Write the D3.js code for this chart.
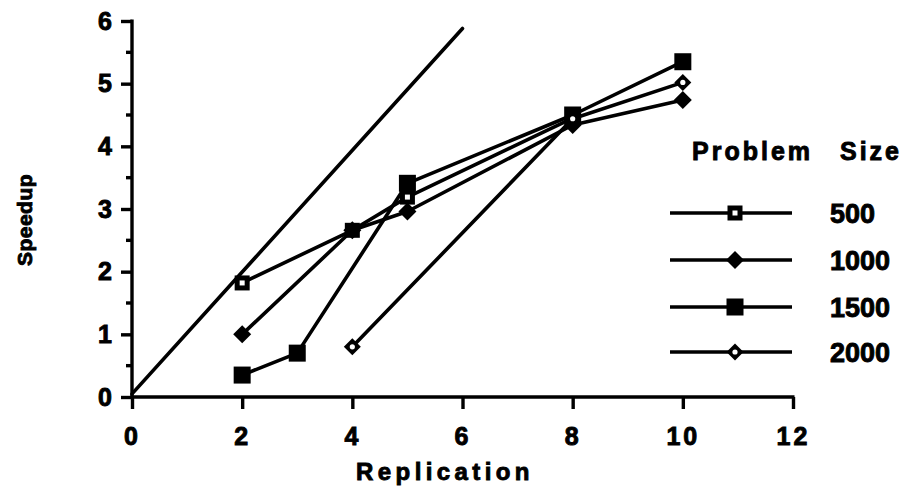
<!DOCTYPE html>
<html>
<head>
<meta charset="utf-8">
<script src="https://cdn.jsdelivr.net/npm/d3@7"></script>
<style>
    body { margin: 0; background: #fff; }
    text { font-family: "Liberation Sans", Arial, sans-serif; font-weight: bold; fill: #000; stroke: #000; stroke-width: 0.9px; }
</style>
</head>
<body>
<div id="chart"></div>
<script>
// Speedup vs replication, one series per problem size
var sizes = ["500", "1000", "1500", "2000"];
var markers = ["openSquare", "filledDiamond", "filledSquare", "openDiamond"];

var rep500 = [2, 4, 5, 8];
var speed500 = [1.82, 2.66, 3.19, 4.45];
var rep1000 = [2, 4, 5, 8, 10];
var speed1000 = [1.0, 2.66, 2.96, 4.34, 4.74];
var rep1500 = [2, 3, 5, 8, 10];
var speed1500 = [0.35, 0.7, 3.41, 4.5, 5.35];
var rep2000 = [4, 8, 10];
var speed2000 = [0.8, 4.44, 5.02];

// ideal (linear) speedup reference line
var idealRep = [0, 6];
var idealSpeed = [0.05, 5.88];

var xTicks = [0, 2, 4, 6, 8, 10, 12];
var yTicks = [0, 1, 2, 3, 4, 5, 6];
var yMinorTicks = [0.5, 1.5, 2.5, 3.5, 4.5, 5.5];

var width = 905, height = 487;

var svg = d3.select("#chart")
    .append("svg")
    .attr("width", width)
    .attr("height", height);

var x = d3.scaleLinear().domain([0, 12]).range([132, 793]);
var y = d3.scaleLinear().domain([0, 6]).range([397, 21]);

var series = [
    { name: sizes[0], marker: markers[0], values: d3.zip(rep500, speed500) },
    { name: sizes[1], marker: markers[1], values: d3.zip(rep1000, speed1000) },
    { name: sizes[2], marker: markers[2], values: d3.zip(rep1500, speed1500) },
    { name: sizes[3], marker: markers[3], values: d3.zip(rep2000, speed2000) }
];

// marker drawing
function drawMarker(g, type) {
    if (type === "openSquare" || type === "filledSquare") {
        var s = type === "openSquare" ? 15 : 17;
        g.append("rect").attr("x", -s / 2).attr("y", -s / 2)
            .attr("width", s).attr("height", s).attr("fill", "#000");
        if (type === "openSquare") {
            g.append("rect").attr("x", -2.5).attr("y", -2.5)
                .attr("width", 5).attr("height", 5).attr("fill", "#fff");
        }
    } else {
        var r = type === "openDiamond" ? 8.5 : 9;
        g.append("path")
            .attr("d", "M0," + (-r) + "L" + r + ",0L0," + r + "L" + (-r) + ",0Z")
            .attr("fill", "#000");
        if (type === "openDiamond") {
            g.append("circle").attr("r", 2.6).attr("fill", "#fff");
        }
    }
}

// Y axis
var yAxisCall = d3.axisLeft(y).tickValues(yTicks).tickSize(11).tickFormat(d3.format("d"));
var yAxis = svg.append("g")
    .attr("transform", "translate(" + x(0) + ",0)")
    .call(yAxisCall);
yAxis.select(".domain").remove();
yAxis.selectAll(".tick line").attr("stroke", "#000").attr("stroke-width", 3.4);
yAxis.selectAll(".tick text")
    .attr("x", -20)
    .attr("font-size", "25px")
    .attr("font-family", "Liberation Sans, Arial, sans-serif")
    .attr("font-weight", "bold");

svg.append("g").selectAll("line")
    .data(yMinorTicks)
    .enter().append("line")
    .attr("x1", x(0) - 6).attr("x2", x(0))
    .attr("y1", function (d) { return y(d); })
    .attr("y2", function (d) { return y(d); })
    .attr("stroke", "#000").attr("stroke-width", 3.4);

svg.append("line")
    .attr("x1", x(0)).attr("x2", x(0))
    .attr("y1", y(6) - 1.5).attr("y2", y(0) + 1.5)
    .attr("stroke", "#000").attr("stroke-width", 3.4);

// X axis
var xAxisCall = d3.axisBottom(x).tickValues(xTicks).tickSize(12).tickFormat(d3.format("d"));
var xAxis = svg.append("g")
    .attr("transform", "translate(0," + y(0) + ")")
    .call(xAxisCall);
xAxis.select(".domain").remove();
xAxis.selectAll(".tick line").attr("stroke", "#000").attr("stroke-width", 3.4);
xAxis.selectAll(".tick text")
    .attr("y", 30)
    .attr("dy", "0.71em")
    .attr("font-size", "25px")
    .attr("letter-spacing", "3px")
    .attr("font-family", "Liberation Sans, Arial, sans-serif")
    .attr("font-weight", "bold");

svg.append("line")
    .attr("x1", x(0) - 1.5).attr("x2", x(12) + 1.5)
    .attr("y1", y(0)).attr("y2", y(0))
    .attr("stroke", "#000").attr("stroke-width", 3.4);

// axis titles
svg.append("text")
    .attr("x", 445)
    .attr("y", 480)
    .attr("font-size", "24px")
    .attr("letter-spacing", "4.4px")
    .attr("text-anchor", "middle")
    .text("Replication");

svg.append("text")
    .attr("transform", "translate(32," + 220 + ") rotate(-90)")
    .attr("font-size", "21px")
    .attr("letter-spacing", "0.5px")
    .attr("text-anchor", "middle")
    .text("Speedup");

// lines
var line = d3.line()
    .x(function (d) { return x(d[0]); })
    .y(function (d) { return y(d[1]); });

svg.append("path")
    .datum(d3.zip(idealRep, idealSpeed))
    .attr("d", line)
    .attr("fill", "none")
    .attr("stroke", "#000")
    .attr("stroke-width", 3.6)
    .attr("stroke-linecap", "round");

svg.selectAll(".series")
    .data(series)
    .enter().append("path")
    .attr("class", "series")
    .attr("d", function (d) { return line(d.values); })
    .attr("fill", "none")
    .attr("stroke", "#000")
    .attr("stroke-width", 3.6)
    .attr("stroke-linejoin", "round");

series.forEach(function (s) {
    s.values.forEach(function (v) {
        var g = svg.append("g")
            .attr("transform", "translate(" + x(v[0]) + "," + y(v[1]) + ")");
        drawMarker(g, s.marker);
    });
});

// Legend
var legendY = [213, 260, 307, 352];

svg.append("text")
    .attr("x", 692).attr("y", 160)
    .attr("font-size", "25px")
    .attr("letter-spacing", "3px")
    .text("Problem");
svg.append("text")
    .attr("x", 840).attr("y", 160)
    .attr("font-size", "25px")
    .attr("letter-spacing", "3px")
    .text("Size");

var legend = svg.selectAll(".legend")
    .data(series)
    .enter().append("g")
    .attr("class", "legend")
    .attr("transform", function (d, i) { return "translate(0," + legendY[i] + ")"; });

legend.append("line")
    .attr("x1", 670).attr("x2", 792)
    .attr("stroke", "#000").attr("stroke-width", 3.4);

legend.each(function (d) {
    var g = d3.select(this).append("g").attr("transform", "translate(735,0)");
    drawMarker(g, d.marker);
});

legend.append("text")
    .attr("x", 830)
    .attr("y", 10)
    .attr("font-size", "27px")
    .text(function (d) { return d.name; });
</script>
</body>
</html>
